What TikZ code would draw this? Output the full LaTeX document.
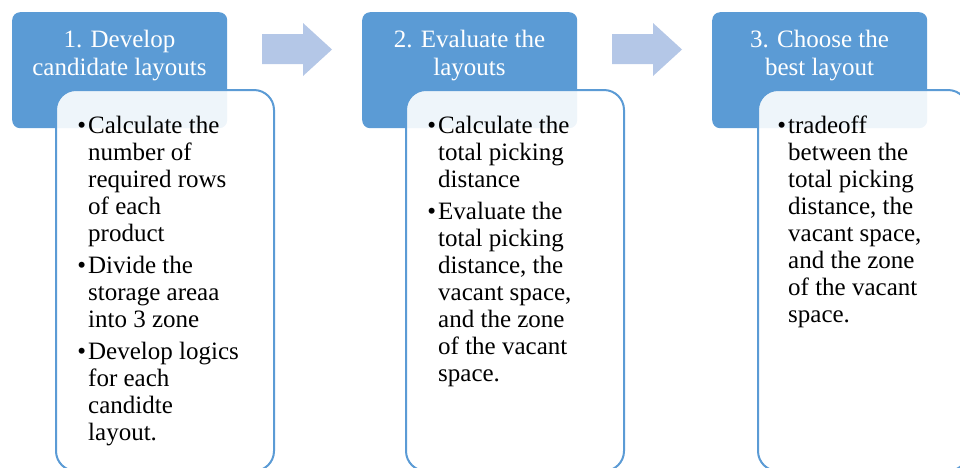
\documentclass[tikz,border=0pt]{standalone}
\usepackage{fontspec}
\setmainfont{Liberation Serif}
\definecolor{hdr}{HTML}{5B9BD5}
\definecolor{arr}{HTML}{B4C7E7}
\begin{document}
\begin{tikzpicture}[x=1pt,y=-1pt,
  hdrbox/.style={fill=hdr, draw=none, rounded corners=8pt, minimum width=215pt, minimum height=116pt, anchor=north west, inner sep=0},
  card/.style={fill=white, fill opacity=0.9, draw=hdr, line width=2pt, rounded corners=20pt, minimum width=218pt, minimum height=381pt, anchor=north west, inner sep=0},
  hdrtext/.style={text=white, align=center, font=\fontsize{25}{28}\selectfont, inner sep=0, anchor=base},
  bodytext/.style={text=black, align=left, font=\fontsize{25}{27}\selectfont, inner sep=0, anchor=base west},
  blockarrow/.style={fill=arr, draw=none}]
\useasboundingbox (0,0) rectangle (960,467);
% headers
\node[hdrbox] (h1) at (12,12) {};
\node[hdrbox] (h2) at (362,12) {};
\node[hdrbox] (h3) at (712,12) {};
% arrows
\fill[blockarrow] (262,34) -- (303,34) -- (303,23) -- (332,49.5) -- (303,76) -- (303,64) -- (262,64) -- cycle;
\fill[blockarrow] (612,34) -- (653,34) -- (653,23) -- (682,49.5) -- (653,76) -- (653,64) -- (612,64) -- cycle;
% header texts (anchor base = baseline of the last line)
\node[hdrtext] (t1) at (119.5,75) {1. Develop\\candidate layouts};
\node[hdrtext] (t2) at (469.5,75) {2. Evaluate the\\layouts};
\node[hdrtext] (t3) at (819.5,75) {3. Choose the\\best layout};
% cards
\node[card] (c1) at (55,89) {};
\node[card] (c2) at (405,89) {};
\node[card, minimum width=210pt] (c3) at (757,89) {};
% body texts (anchor base = baseline of the last line)
\node[bodytext] (b11) at (88,241) {\llap{•\hspace{2pt}}Calculate the\\number of\\required rows\\of each\\product};
\node[bodytext] (b12) at (88,327) {\llap{•\hspace{2pt}}Divide the\\storage areaa\\into 3 zone};
\node[bodytext] (b13) at (88,440) {\llap{•\hspace{2pt}}Develop logics\\for each\\candidte\\layout.};
\node[bodytext] (b21) at (438,187) {\llap{•\hspace{2pt}}Calculate the\\total picking\\distance};
\node[bodytext] (b22) at (438,381) {\llap{•\hspace{2pt}}Evaluate the\\total picking\\distance, the\\vacant space,\\and the zone\\of the vacant\\space.};
\node[bodytext] (b31) at (788,322) {\llap{•\hspace{2pt}}tradeoff\\between the\\total picking\\distance, the\\vacant space,\\and the zone\\of the vacant\\space.};
\end{tikzpicture}
\end{document}
